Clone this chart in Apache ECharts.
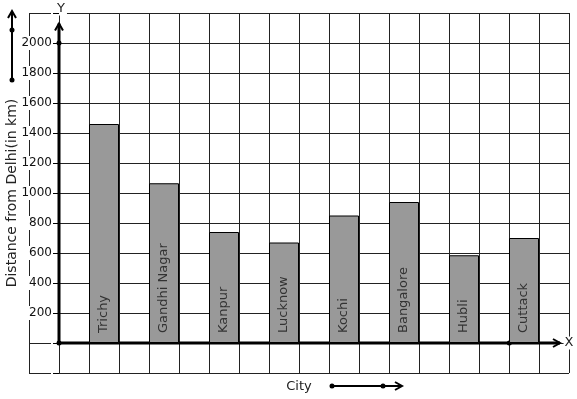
<!DOCTYPE html>
<html>
<head>
<meta charset="utf-8">
<script src="https://cdn.jsdelivr.net/npm/echarts@6/dist/echarts.min.js"></script>
<style>
  html, body { margin: 0; padding: 0; background: #fff; }
  #chart { width: 577px; height: 399px; }
</style>
</head>
<body>
<div id="chart"></div>
<script>
const cities = ["Trichy", "Gandhi Nagar", "Kanpur", "Lucknow", "Kochi", "Bangalore", "Hubli", "Cuttack"];
const distances = [1460, 1065, 740, 670, 850, 940, 585, 700];
const yTicks = [200, 400, 600, 800, 1000, 1200, 1400, 1600, 1800, 2000];

const font = "DejaVu Sans";
const ink = "#000";
const chart = echarts.init(document.getElementById("chart"));

chart.setOption({
  animation: false,
  backgroundColor: "#fff",
  textStyle: { fontFamily: font },
  grid: [
    { left: 29, right: 8, top: 13, bottom: 26, outerBoundsMode: "none", containLabel: false },
    { left: 104, right: 53, top: 13, bottom: 26, outerBoundsMode: "none", containLabel: false }
  ],
  xAxis: [
    {
      gridIndex: 0, type: "value", min: 0, max: 18, interval: 1,
      axisLine: { show: false }, axisTick: { show: false }, axisLabel: { show: false },
      splitLine: { show: true, lineStyle: { color: "#222", width: 1 } },
      name: "City", nameLocation: "middle", nameGap: 7,
      nameTextStyle: { fontFamily: font, fontSize: 13, color: "#222" }
    },
    {
      gridIndex: 1, type: "category", data: cities, boundaryGap: false,
      axisLine: { show: false }, axisTick: { show: false }, axisLabel: { show: false },
      splitLine: { show: false }
    }
  ],
  yAxis: [
    {
      gridIndex: 0, type: "value", min: -200, max: 2200, interval: 200,
      axisLine: { show: false }, axisTick: { show: false }, axisLabel: { show: false },
      splitLine: { show: true, lineStyle: { color: "#222", width: 1 } },
      name: "Distance from Delhi(in km)", nameLocation: "middle", nameGap: 10, nameRotate: 90,
      nameTextStyle: { fontFamily: font, fontSize: 14, color: "#222" }
    },
    {
      gridIndex: 1, type: "value", min: -200, max: 2200, interval: 200, offset: 45,
      axisLine: { show: false },
      axisTick: { show: true, length: 6, lineStyle: { color: ink } },
      splitLine: { show: false },
      axisLabel: {
        margin: 6, fontFamily: font, fontSize: 12, color: "#111",
        backgroundColor: "#fff", padding: [1, 1],
        formatter: v => (yTicks.indexOf(v) >= 0 ? String(v) : "")
      }
    }
  ],
  series: [
    {
      type: "bar", xAxisIndex: 1, yAxisIndex: 1, data: distances,
      barWidth: 30, clip: false,
      itemStyle: { color: "#999999", borderColor: ink, borderWidth: 1 },
      label: {
        show: true, position: "insideBottom", rotate: 90, distance: 10,
        align: "left", verticalAlign: "middle", formatter: "{b}",
        fontFamily: font, fontSize: 13, color: "#333"
      }
    }
  ]
});

// axes, arrows and decorations placed from grid 0 coordinates
const px = (x, y) => chart.convertToPixel({ gridIndex: 0 }, [x, y]);
const o = px(1, 0);
const yTop = px(1, 2130);
const xEnd = px(17.7, 0);
const y2000 = px(1, 2000);
const lastBar = px(17, 0);

function arrowUp(x, y) {
  return { type: "polyline", shape: { points: [[x - 4, y + 7], [x, y], [x + 4, y + 7]] }, style: { stroke: ink, lineWidth: 2, fill: null } };
}
function arrowRight(x, y) {
  return { type: "polyline", shape: { points: [[x - 7, y - 4], [x, y], [x - 7, y + 4]] }, style: { stroke: ink, lineWidth: 2, fill: null } };
}
function dot(x, y) {
  return { type: "circle", shape: { cx: x, cy: y, r: 2.5 }, style: { fill: ink } };
}
function line(x1, y1, x2, y2) {
  return { type: "line", shape: { x1, y1, x2, y2 }, style: { stroke: ink, lineWidth: 3 } };
}

chart.setOption({
  graphic: [
    line(o[0], o[1], yTop[0], yTop[1]),
    arrowUp(yTop[0], yTop[1]),
    line(o[0], o[1], xEnd[0], xEnd[1]),
    arrowRight(xEnd[0], xEnd[1]),
    dot(o[0], o[1]),
    dot(y2000[0], y2000[1]),
    dot(lastBar[0] - 30 + 0.3, lastBar[1]),
    { type: "text", x: o[0] + 2, y: 9, style: { text: "Y", font: "13px " + font, fill: "#222", align: "center", verticalAlign: "middle", backgroundColor: "#fff", padding: [0, 2] } },
    { type: "text", x: xEnd[0] + 9, y: o[1], style: { text: "X", font: "13px " + font, fill: "#222", align: "center", verticalAlign: "middle", backgroundColor: "#fff", padding: [0, 1] } },
    // scale indicator top-left
    { type: "line", shape: { x1: 12, y1: 11, x2: 12, y2: 80 }, style: { stroke: ink, lineWidth: 2 } },
    arrowUp(12, 11),
    dot(12, 30),
    dot(12, 80),
    // direction indicator below axis
    { type: "line", shape: { x1: 332, y1: 386, x2: 402, y2: 386 }, style: { stroke: ink, lineWidth: 2 } },
    arrowRight(402, 386),
    dot(332, 386),
    dot(383, 386)
  ]
});
</script>
</body>
</html>
